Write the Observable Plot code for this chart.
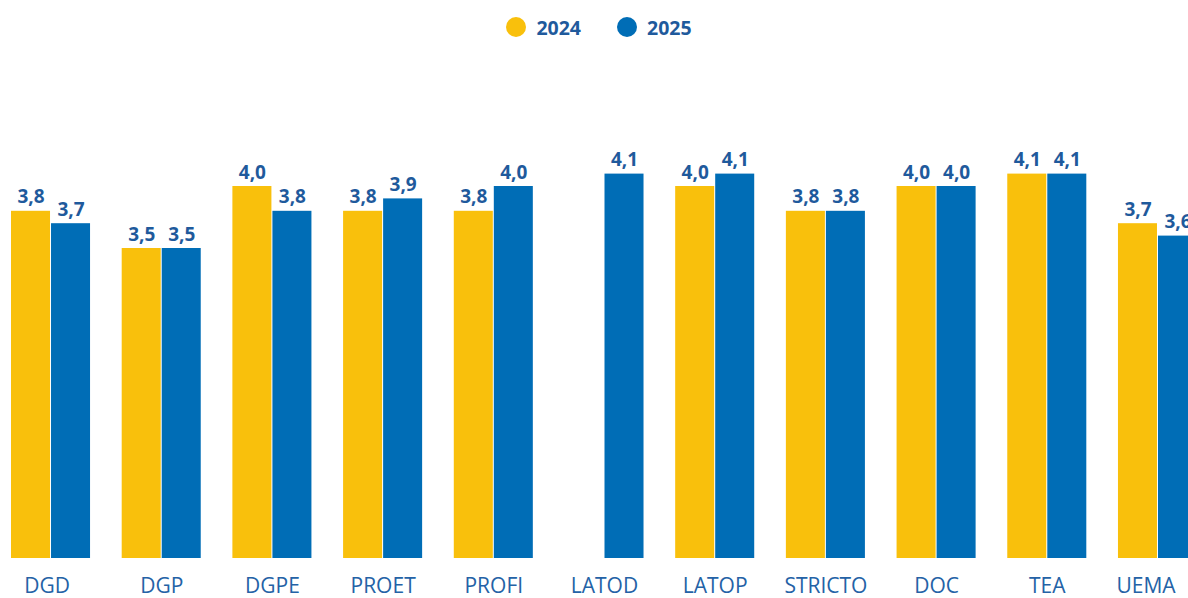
<!DOCTYPE html>
<html>
<head>
<meta charset="utf-8">
<script src="https://cdn.jsdelivr.net/npm/d3@7"></script>
<script src="https://cdn.jsdelivr.net/npm/@observablehq/plot@0.6"></script>
<style>
  html, body { margin: 0; padding: 0; background: #fff; overflow: hidden; width: 1188px; height: 598px; }
  #legend { height: 54px; display: flex; justify-content: center; align-items: center; font-family: "Open Sans", sans-serif; font-weight: 700; font-size: 19.5px; color: #1f5a9c; padding-left: 10px; box-sizing: border-box; }
  .item { display: flex; align-items: center; margin: 0 18px; }
  .dot { width: 20px; height: 20px; border-radius: 50%; margin-right: 10px; }
  #chart { width: 1188px; overflow: hidden; }
  #chart svg { max-width: none !important; display: block; }
</style>
</head>
<body>
<div id="legend"></div>
<div id="chart"></div>
<script>
const categories = ["DGD", "DGP", "DGPE", "PROET", "PROFI", "LATOD", "LATOP", "STRICTO", "DOC", "TEA", "UEMA"];
const series = ["2024", "2025"];
const values2024 = [3.8, 3.5, 4.0, 3.8, 3.8, null, 4.0, 3.8, 4.0, 4.1, 3.7];
const values2025 = [3.7, 3.5, 3.8, 3.9, 4.0, 4.1, 4.1, 3.8, 4.0, 4.1, 3.6];
const colors = ["#f9c00c", "#006db6"];

const data = [];
categories.forEach((c, i) => {
  [values2024, values2025].forEach((arr, j) => {
    if (arr[i] != null) data.push({cat: c, year: series[j], value: arr[i]});
  });
});

const legend = document.getElementById("legend");
series.forEach((s, j) => {
  const it = document.createElement("div");
  it.className = "item";
  it.innerHTML = `<span class="dot" style="background:${colors[j]}"></span><span>${s}</span>`;
  legend.appendChild(it);
});

const fmt = v => d3.format(".1f")(v).replace(".", ",");
const axisStyle = {anchor: "bottom", tickSize: 0, tickPadding: 20, fontSize: 21, fill: "#2462a6", label: null};

const chart = Plot.plot({
  width: 1197,
  height: 544,
  marginLeft: 11,
  marginRight: 0,
  marginTop: 0,
  marginBottom: 40,
  style: {fontFamily: "'Open Sans', sans-serif", background: "#fff", overflow: "visible", maxWidth: "none"},
  fx: {domain: categories, paddingInner: 0.286, paddingOuter: 0, round: false, label: null},
  x: {domain: series, paddingInner: 0.025, paddingOuter: 0, round: false, axis: null},
  y: {domain: [1, 1 + 504 / 124], axis: null},
  color: {domain: series, range: colors},
  marks: [
    Plot.barY(data, {fx: "cat", x: "year", y1: 1, y2: "value", fill: "year"}),
    Plot.text(data, {fx: "cat", x: "year", y: "value", text: d => fmt(d.value), lineAnchor: "bottom", dy: -8, fill: "#1f5a9c", fontWeight: 700, fontSize: 19}),
    Plot.axisFx({...axisStyle, ticks: categories.slice(1, -1)}),
    Plot.axisFx({...axisStyle, ticks: [categories[0]], dx: -4}),
    Plot.axisFx({...axisStyle, ticks: [categories[categories.length - 1]], dx: -12})
  ]
});
document.getElementById("chart").appendChild(chart);
</script>
</body>
</html>
